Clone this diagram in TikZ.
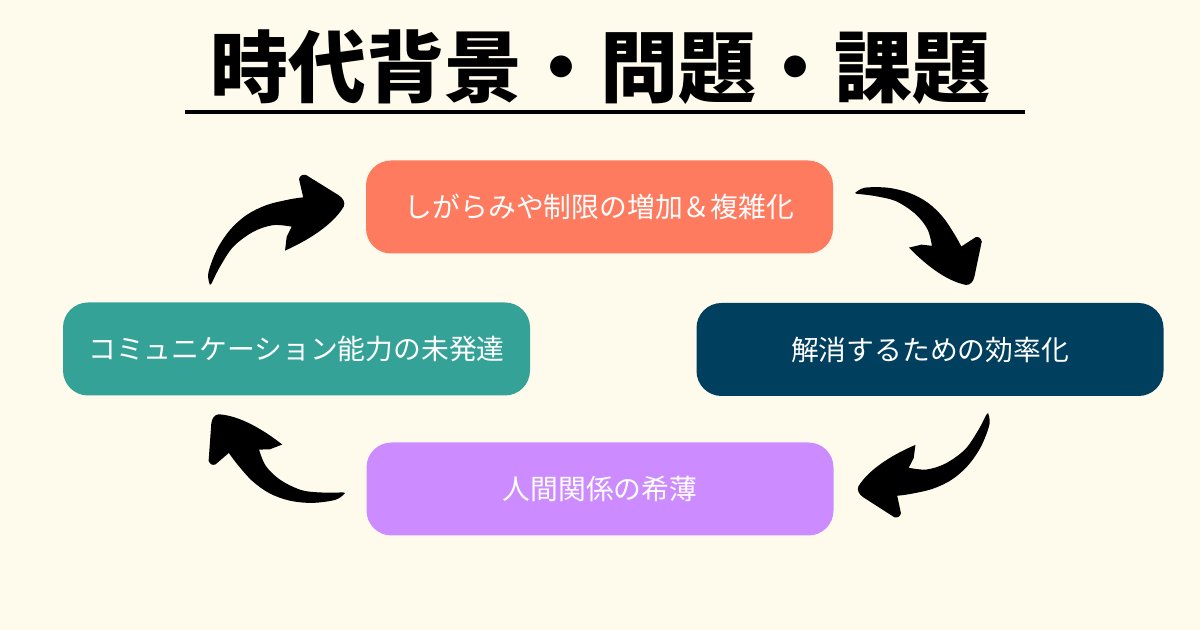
\documentclass[tikz,border=0pt]{standalone}
\usepackage{fontspec}
\newfontfamily\jp{Noto Sans CJK JP}
\definecolor{bgcol}{HTML}{FEFBEC}
\definecolor{cOrange}{HTML}{FF7B5F}
\definecolor{cDark}{HTML}{013F5E}
\definecolor{cPurple}{HTML}{CC8BFF}
\definecolor{cTeal}{HTML}{35A297}
\tikzset{
  box/.style={rounded corners=12.5pt, minimum width=233.5pt, minimum height=46.5pt,
    inner sep=0pt, text=white, font=\jp\fontsize{13.9}{16}\selectfont},
  brush/.pic={
    \fill[black] plot[smooth,tension=0.55] coordinates {(0,0) (4.6,10.9) (23.9,26.4) (45.6,36.6) (67.7,40.8) (89.9,38.9) (112.8,31.7) (125.2,26.5)}
      -- (131,44) .. controls (133.5,47) and (136,46.5) .. (139,44.5)
      -- (156.5,10) .. controls (159,5) and (158.5,0) .. (155,-2.5)
      .. controls (135,-13) and (105,-12.5) .. (82,-9.6)
      -- (90.6,1.4)
      -- plot[smooth,tension=0.55] coordinates {(100.1,7.4) (85.2,18.3) (64.7,23) (39.8,20.6) (18,10.4) (2.3,0.6)} -- cycle;
  }
}
\begin{document}
\begin{tikzpicture}[x=0.5pt,y=0.5pt]
\fill[bgcol] (0,0) rectangle (1200,630);
\useasboundingbox (0,0) rectangle (1200,630);
% title
\node[font=\jp\bfseries\fontsize{39}{45}\selectfont, inner sep=0pt] (title) at (600,563) {時代背景・問題・課題};
\coordinate (ulL) at (185,518);
\coordinate (ulR) at (1025,518);
\draw[line width=2pt] (ulL) -- (ulR);
% boxes
\node[box, fill=cOrange] (top) at (599.5,423) {しがらみや制限の増加＆複雑化};
\node[box, fill=cDark] (right) at (930,280.5) {解消するための効率化};
\node[box, fill=cPurple] (bottom) at (600,141) {人間関係の希薄};
\node[box, fill=cTeal] (left) at (296.5,281) {コミュニケーション能力の未発達};
% arrows
\coordinate (a1) at (210,345);
\coordinate (a2) at (855,437);
\coordinate (a3) at (988,217);
\coordinate (a4) at (345,137);
\pic[rotate=31.3] at (a1) {brush};
\pic[rotate=-38.7, scale=0.93] at (a2) {brush};
\pic[rotate=-149.6, scale=0.96] at (a3) {brush};
\pic[rotate=149, scale=0.96] at (a4) {brush};
\end{tikzpicture}
\end{document}
